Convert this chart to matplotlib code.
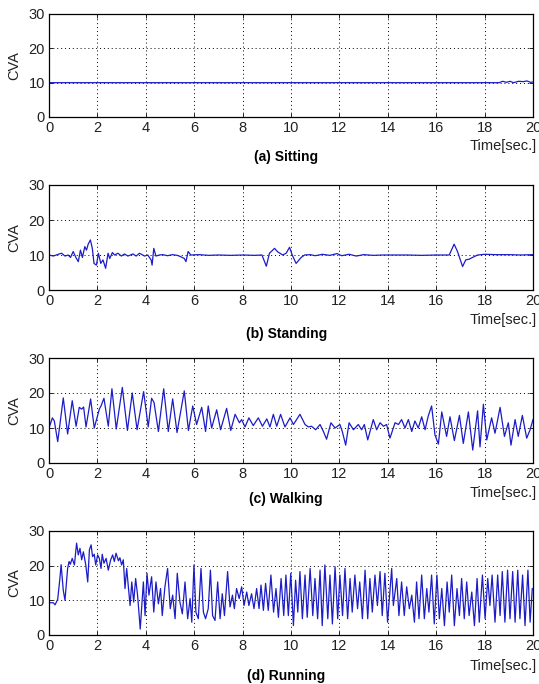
"""CVA over time for four activities: sitting, standing, walking, running.

Four stacked MATLAB-style panels, values read off the original figure.
"""
import matplotlib
matplotlib.use("Agg")
import matplotlib.pyplot as plt

# ---- data (time in s, CVA) -------------------------------------------------
sit_t = [0, 18.6, 18.75, 18.9, 19.05, 19.2, 19.4, 19.6, 19.75, 19.9, 20.0]
sit_v = [10, 10, 10.4, 10.1, 10.4, 10.0, 10.4, 10.3, 10.5, 10.1, 10.2]

stand_t = [0, 0.18, 0.38, 0.52, 0.66, 0.79, 0.89, 1.0, 1.11, 1.21, 1.3, 1.38,
           1.48, 1.55, 1.62, 1.71, 1.79, 1.86, 1.96, 2.04, 2.14, 2.23, 2.34,
           2.44, 2.51, 2.62, 2.71, 2.85, 2.99, 3.12, 3.26, 3.47, 3.6, 3.74,
           3.95, 4.08, 4.22, 4.26, 4.33, 4.42, 4.56, 4.7, 4.9, 5.1, 5.3,
           5.45, 5.59, 5.66, 5.75, 5.86, 6.2, 6.6, 7.0, 7.5, 8.0, 8.5, 8.8,
           8.98, 9.11, 9.32, 9.45, 9.66, 9.8, 9.94, 10.05, 10.21, 10.42,
           10.56, 10.8, 11.0, 11.3, 11.6, 11.9, 12.1, 12.4, 12.7, 13.0,
           13.4, 13.8, 14.2, 14.8, 15.4, 16.0, 16.54, 16.74, 16.88, 17.09,
           17.22, 17.36, 17.5, 17.71, 18.0, 18.5, 19.0, 19.5, 20.0]
stand_v = [10, 9.7, 10.2, 10.5, 9.7, 10, 9.3, 11, 9.3, 8.1, 11.4, 9.3,
           12.4, 11.4, 13.1, 14.3, 11.9, 7.6, 7.1, 10.5, 7.6, 8.6, 6.2,
           10.5, 9.0, 10.7, 10, 10.5, 9.7, 10.3, 9.7, 10.3, 9.7, 10.5,
           9.7, 10, 8.6, 7.1, 11.9, 9.7, 10, 10.1, 9.8, 10.1, 9.9,
           9.5, 9.0, 8.1, 11.0, 10, 10.1, 9.9, 10.0, 9.9, 10.0, 9.9, 10.0,
           6.8, 10.5, 11.9, 10.9, 10, 10.5, 12.2, 10, 7.6, 9.3,
           10, 10.1, 9.8, 10.2, 9.9, 10.4, 9.8, 10.2, 9.7, 10.1,
           9.9, 10.0, 10.0, 10.0, 9.9, 10.0, 10.0, 13.1, 11.0, 6.7,
           8.6, 8.8, 9.3, 10, 10.2, 10.1, 10.1, 10.0, 10.1]

walk_t = [0, 0.14, 0.22, 0.36, 0.59, 0.77, 0.96, 1.12, 1.25, 1.35, 1.43,
          1.53, 1.72, 1.87, 2.08, 2.15, 2.27, 2.45, 2.60, 2.78, 3.03, 3.24,
          3.44, 3.64, 3.91, 4.10, 4.24, 4.34, 4.52, 4.74, 4.93, 5.11, 5.29,
          5.59, 5.76, 5.94, 6.10, 6.31, 6.47, 6.58, 6.72, 6.93, 7.09, 7.34,
          7.51, 7.69, 7.87, 7.96, 8.10, 8.26, 8.44, 8.65, 8.82, 9.00, 9.13,
          9.27, 9.41, 9.57, 9.75, 9.96, 10.10, 10.37, 10.58, 10.72, 10.85,
          11.02, 11.2, 11.34, 11.47, 11.65, 11.82, 12.02, 12.12, 12.26,
          12.4, 12.58, 12.78, 12.92, 13.03, 13.17, 13.4, 13.54, 13.68,
          13.82, 13.95, 14.09, 14.3, 14.44, 14.57, 14.71, 14.85, 14.99,
          15.12, 15.26, 15.4, 15.54, 15.67, 15.81, 15.95, 16.09, 16.23,
          16.43, 16.57, 16.75, 16.96, 17.12, 17.33, 17.51, 17.71, 17.81,
          17.95, 18.09, 18.29, 18.43, 18.64, 18.82, 18.98, 19.09, 19.26,
          19.39, 19.56, 19.74, 19.88, 20.0]
walk_v = [10, 12.9, 12.0, 6.1, 18.6, 8.3, 17.8, 10.5, 15.9, 15.4, 16.0,
          10.3, 18.3, 10.0, 15.4, 16.3, 18.5, 10.5, 21.2, 9.7, 21.6, 9.3,
          20.0, 9.5, 20.4, 10.3, 18.5, 17.3, 9.0, 21.2, 9.0, 18.3, 8.7,
          20.6, 9.3, 16.3, 11.0, 15.9, 9.0, 16.3, 10.0, 15.2, 9.5, 15.6,
          9.3, 13.9, 11.5, 12.4, 10.3, 12.9, 10.7, 12.9, 10.5, 12.6, 10.3,
          13.9, 10.5, 13.9, 10.3, 12.9, 11.0, 13.9, 11.0, 10.3, 10.5,
          9.5, 11.0, 9.0, 6.8, 11.5, 10.0, 11.0, 9.0, 5.1,
          11.5, 9.5, 11.0, 9.5, 11.0, 6.6, 12.4, 9.5, 11.5,
          10.5, 11.0, 7.1, 11.5, 11.0, 12.4, 10.0, 12.4, 9.0,
          12.0, 10.0, 13.2, 9.5, 13.4, 16.3, 8.0, 5.4, 14.6,
          7.6, 13.2, 6.4, 13.6, 5.6, 14.6, 3.7, 14.9, 4.6,
          16.8, 6.6, 12.9, 8.5, 15.9, 7.6, 11.5, 5.1, 12.4,
          7.6, 13.6, 7.1, 9.5, 12.4]

run_t = [0, 0.18, 0.25, 0.36, 0.45, 0.5, 0.59, 0.66, 0.77, 0.83, 0.88, 0.96,
         1.05, 1.14, 1.21, 1.28, 1.35, 1.42, 1.52, 1.6, 1.67, 1.74, 1.8,
         1.87, 1.93, 2.01, 2.08, 2.15, 2.2, 2.27, 2.36, 2.45, 2.55, 2.63,
         2.7, 2.77, 2.87, 2.93, 3.0, 3.07, 3.14, 3.21, 3.28, 3.35, 3.42,
         3.5, 3.58, 3.66, 3.77, 3.9, 3.97, 4.05, 4.13, 4.24, 4.33, 4.42,
         4.52, 4.61, 4.68, 4.79, 4.9, 5.01, 5.11, 5.21, 5.3, 5.41, 5.51,
         5.62, 5.73, 5.83, 5.9, 5.99, 6.07, 6.17, 6.28, 6.38, 6.47, 6.58,
         6.67, 6.76, 6.86, 6.97, 7.07, 7.16, 7.25, 7.38, 7.48, 7.58, 7.66,
         7.75, 7.86, 7.96, 8.06, 8.17, 8.26, 8.37, 8.47, 8.58, 8.68, 8.76,
         8.86, 8.95, 9.06, 9.17, 9.28, 9.38, 9.48, 9.59, 9.7, 9.79, 9.89,
         9.99, 10.1, 10.19, 10.28, 10.37, 10.47, 10.58, 10.67, 10.79, 10.9,
         10.99, 11.1, 11.2, 11.29, 11.4, 11.52, 11.61, 11.71, 11.82, 11.93,
         12.02, 12.13, 12.23, 12.34, 12.44, 12.53, 12.64, 12.75, 12.84,
         12.95, 13.06, 13.17, 13.26, 13.36, 13.47, 13.57, 13.68, 13.77,
         13.88, 13.99, 14.16, 14.23, 14.37, 14.46, 14.57, 14.68, 14.78,
         14.89, 14.99, 15.1, 15.19, 15.29, 15.4, 15.51, 15.61, 15.7, 15.81,
         15.92, 16.03, 16.13, 16.23, 16.34, 16.45, 16.54, 16.64, 16.75,
         16.86, 16.96, 17.05, 17.16, 17.26, 17.36, 17.47, 17.58, 17.69,
         17.78, 17.91, 18.02, 18.13, 18.22, 18.31, 18.43, 18.54, 18.64,
         18.73, 18.84, 18.95, 19.05, 19.16, 19.26, 19.37, 19.46, 19.57,
         19.67, 19.79, 19.88, 19.97]
run_v = [9.3, 9.3, 8.7, 10.3, 16.3, 20.3, 12.9, 10.0, 19.2, 21.2, 20.4, 22.1,
         20.2, 26.5, 23.1, 25.0, 21.7, 24.0, 20.2, 15.3, 24.6, 26.0, 22.6,
         23.3, 20.2, 23.1, 22.1, 19.2, 23.3, 20.7, 22.1, 18.7, 21.7, 23.1,
         21.2, 23.6, 21.4, 22.3, 20.2, 21.7, 13.4, 19.2, 13.9, 8.5, 15.3,
         9.5, 16.3, 11.5, 1.7, 15.3, 5.6, 17.8, 11.5, 16.8, 6.6, 15.3,
         9.0, 13.4, 5.6, 13.9, 19.2, 7.6, 11.5, 4.7, 17.8, 9.5, 6.1,
         15.3, 4.7, 10.5, 3.7, 20.2, 6.6, 4.7, 19.2, 6.6, 4.7, 7.6,
         18.7, 5.6, 4.2, 15.3, 4.7, 11.9, 5.6, 18.3, 8.1, 11.5, 7.6,
         13.4, 10.5, 13.9, 8.5, 12.4, 8.5, 11.9, 7.6, 13.4, 7.6, 14.4,
         7.1, 14.9, 7.1, 17.3, 6.6, 13.4, 5.1, 16.3, 5.6, 17.3, 5.6,
         17.8, 2.7, 15.8, 6.6, 18.3, 4.7, 17.3, 5.1, 19.2, 5.6,
         16.3, 4.7, 18.7, 2.7, 20.2, 4.7, 17.3, 3.2, 19.7, 4.7,
         17.3, 5.6, 19.2, 4.7, 16.3, 6.6, 17.3, 7.6, 15.3,
         4.7, 18.7, 4.7, 16.3, 6.6, 17.3, 8.5, 18.3, 5.6,
         17.8, 3.7, 19.2, 8.5, 16.3, 5.6, 15.3, 5.6, 13.9,
         7.6, 11.5, 3.7, 15.3, 4.7, 17.3, 4.7, 13.4, 6.6, 17.3,
         3.2, 17.3, 4.7, 13.4, 2.7, 15.3, 6.6, 17.3, 2.7,
         13.4, 5.6, 16.3, 4.7, 15.3, 5.6, 12.4, 2.7, 16.3,
         3.7, 17.3, 4.7, 16.3, 8.5, 17.3, 3.7, 17.3, 5.6,
         18.3, 3.7, 18.7, 4.7, 18.3, 3.7, 18.7, 4.7, 17.3,
         2.7, 18.7, 3.7, 13.4]

panels = [
    (sit_t, sit_v, "(a) Sitting"),
    (stand_t, stand_v, "(b) Standing"),
    (walk_t, walk_v, "(c) Walking"),
    (run_t, run_v, "(d) Running"),
]

# ---- layout (pixel positions in a 539x684 canvas) --------------------------
W, H = 539, 684
AX_LEFT, AX_RIGHT = 49, 533
AX_TOPS = [14, 185, 358, 531]
AX_BOTTOMS = [117, 290, 463, 635]
TIME_OFF = [29, 30, 30, 31]      # px below axis bottom, "Time[sec.]" centre
TITLE_OFF = [40, 44, 36, 41]     # px below axis bottom, panel caption centre

FONT = ["Liberation Sans", "DejaVu Sans"]
plt.rcParams["font.family"] = FONT

fig = plt.figure(figsize=(W / 100, H / 100), dpi=100)

for i, (t, v, caption) in enumerate(panels):
    top, bot = AX_TOPS[i], AX_BOTTOMS[i]
    ax = fig.add_axes([AX_LEFT / W, 1 - bot / H,
                       (AX_RIGHT - AX_LEFT) / W, (bot - top) / H])
    ax.plot(t, v, color="#1c1cc8", linewidth=0.9)
    ax.set_xlim(0, 20)
    ax.set_ylim(0, 30)
    ax.set_xticks(range(0, 21, 2))
    ax.set_yticks([0, 10, 20, 30])
    ax.grid(True, color="black", linestyle=(0, (1, 3)), linewidth=0.7)
    ax.tick_params(direction="in", top=True, right=True, length=3,
                   width=0.7, labelsize=10.5, pad=3, colors="#222222")
    for sp in ax.spines.values():
        sp.set_linewidth(0.9)
    ax.set_ylabel("CVA", fontsize=10.5, color="#222222")
    ax.yaxis.set_label_coords(-28 / (AX_RIGHT - AX_LEFT), 0.5)

    hpx = bot - top
    ax.text(1 + 4 / (AX_RIGHT - AX_LEFT), -TIME_OFF[i] / hpx, "Time[sec.]",
            transform=ax.transAxes, ha="right", va="center", fontsize=10.5,
            color="#222222")
    ax.text(0.49, -TITLE_OFF[i] / hpx, caption, transform=ax.transAxes,
            ha="center", va="center", fontsize=10, fontweight="bold")

fig.savefig("out.png", dpi=100)
